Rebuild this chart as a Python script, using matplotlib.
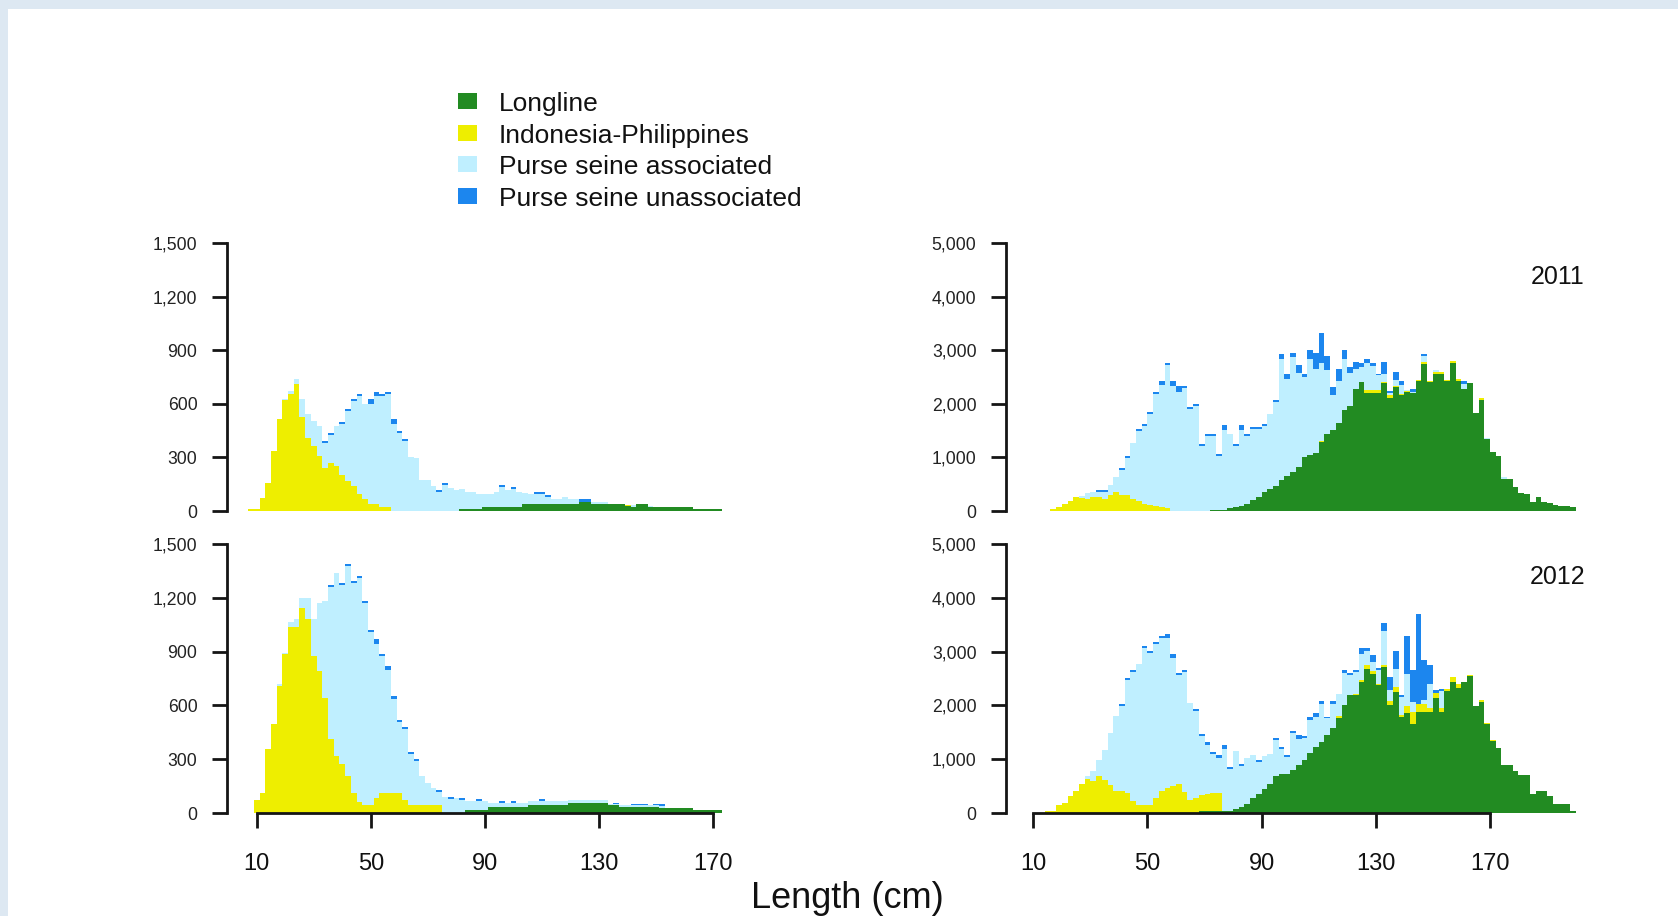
import numpy as np
import matplotlib.pyplot as plt
from matplotlib.patches import Rectangle

plt.rcParams['font.family'] = ['Liberation Sans', 'DejaVu Sans']

# 2 cm length classes (bin centres)
left_len = np.arange(8, 174, 2)     # 83 classes, left panels
right_len = np.arange(15, 201, 2)   # 93 classes, right panels

fleets = ['Longline', 'Indonesia-Philippines', 'Purse seine associated', 'Purse seine unassociated']

# ---- top left ----
tl_ll = [0, 0, 0, 0, 0, 0, 0, 0, 0, 0,
         0, 0, 0, 0, 0, 0, 0, 0, 0, 0,
         0, 0, 0, 0, 0, 0, 0, 0, 0, 0,
         0, 0, 0, 0, 0, 0, 0, 9, 9, 9,
         9, 22, 22, 22, 22, 22, 22, 22, 37, 37,
         37, 37, 37, 37, 37, 37, 37, 37, 52, 52,
         37, 37, 37, 37, 37, 37, 28, 22, 37, 37,
         22, 22, 22, 22, 22, 22, 22, 22, 9, 9,
         9, 9, 9]
tl_ip = [9, 9, 75, 159, 336, 513, 621, 657, 709, 528,
         410, 364, 308, 243, 271, 252, 202, 168, 140, 97,
         65, 37, 37, 22, 22, 0, 0, 0, 0, 0,
         0, 0, 0, 0, 0, 0, 0, 0, 0, 0,
         0, 0, 0, 0, 0, 0, 0, 0, 0, 0,
         0, 0, 0, 0, 0, 0, 0, 0, 0, 0,
         0, 0, 0, 0, 0, 0, 6, 0, 0, 0,
         0, 0, 0, 0, 0, 0, 0, 0, 0, 0,
         0, 0, 0]
tl_psa = [0, 0, 0, 0, 0, 0, 5, 15, 28, 97,
          131, 140, 168, 138, 153, 224, 287, 390, 474, 545,
          536, 560, 607, 624, 633, 489, 435, 394, 302, 295,
          174, 174, 140, 106, 147, 131, 116, 112, 99, 99,
          84, 71, 71, 86, 112, 96, 99, 86, 66, 56,
          58, 58, 41, 32, 32, 41, 28, 28, 0, 0,
          15, 15, 15, 4, 4, 4, 0, 12, 0, 0,
          6, 0, 0, 0, 0, 0, 0, 0, 0, 0,
          0, 0, 0]
tl_psu = [0, 0, 0, 0, 0, 0, 0, 0, 0, 0,
          0, 0, 0, 11, 11, 0, 11, 11, 11, 11,
          0, 28, 22, 11, 11, 28, 11, 11, 0, 0,
          0, 0, 0, 12, 12, 0, 0, 0, 0, 0,
          0, 0, 0, 0, 11, 0, 11, 0, 0, 0,
          11, 11, 12, 0, 0, 0, 0, 0, 13, 13,
          0, 0, 0, 0, 0, 0, 0, 0, 0, 0,
          0, 0, 0, 0, 0, 0, 0, 0, 0, 0,
          0, 0, 0]

# ---- bottom left ----
bl_ll = [0, 0, 0, 0, 0, 0, 0, 0, 0, 0,
         0, 0, 0, 0, 0, 0, 0, 0, 0, 0,
         0, 0, 0, 0, 0, 0, 0, 0, 0, 0,
         0, 0, 0, 0, 0, 0, 0, 0, 18, 18,
         18, 18, 33, 33, 33, 33, 33, 33, 33, 46,
         46, 46, 46, 46, 46, 46, 57, 57, 57, 57,
         57, 57, 57, 43, 43, 33, 33, 33, 33, 33,
         33, 33, 30, 30, 30, 30, 30, 30, 15, 15,
         15, 15, 15]
bl_ip = [0, 74, 113, 357, 496, 709, 884, 1036, 1036, 1143,
         1079, 875, 792, 644, 413, 320, 274, 204, 113, 61,
         43, 43, 85, 113, 113, 113, 113, 74, 43, 43,
         43, 43, 43, 43, 0, 0, 0, 0, 0, 0,
         0, 0, 0, 0, 0, 0, 0, 0, 0, 0,
         0, 0, 0, 0, 0, 0, 0, 0, 0, 0,
         0, 0, 0, 0, 0, 0, 0, 0, 0, 0,
         0, 0, 0, 0, 0, 0, 0, 0, 0, 0,
         0, 0, 0]
bl_psa = [0, 0, 0, 0, 0, 13, 10, 30, 43, 56,
          120, 204, 379, 540, 845, 1018, 997, 1172, 1171, 1251,
          1130, 969, 859, 762, 683, 522, 396, 394, 288, 247,
          161, 124, 98, 74, 92, 80, 85, 74, 49, 49,
          49, 49, 24, 24, 24, 24, 24, 24, 24, 21,
          21, 21, 21, 21, 21, 21, 13, 13, 13, 13,
          13, 13, 13, 5, 5, 10, 10, 10, 10, 10,
          10, 10, 10, 0, 0, 0, 0, 0, 0, 0,
          0, 0, 0]
bl_psu = [0, 0, 0, 0, 0, 0, 0, 0, 0, 0,
          0, 0, 0, 0, 11, 0, 11, 12, 11, 11,
          11, 11, 24, 11, 25, 18, 11, 11, 11, 12,
          0, 0, 0, 11, 0, 11, 0, 11, 0, 0,
          10, 0, 0, 0, 12, 0, 8, 0, 0, 0,
          0, 10, 0, 0, 0, 0, 0, 0, 0, 0,
          0, 0, 0, 0, 8, 0, 0, 8, 8, 8,
          0, 8, 8, 0, 0, 0, 0, 0, 0, 0,
          0, 0, 0]

# ---- top right (2011) ----
tr_ll = [0, 0, 0, 0, 0, 0, 0, 0, 0, 0,
         0, 0, 0, 0, 0, 0, 0, 0, 0, 0,
         0, 0, 0, 0, 0, 0, 0, 0, 0, 25,
         25, 25, 50, 69, 100, 131, 206, 268, 349, 412,
         474, 580, 649, 724, 817, 1005, 1036, 1080, 1279, 1441,
         1504, 1641, 1878, 1953, 2284, 2409, 2203, 2203, 2203, 2396,
         2109, 2315, 2165, 2221, 2203, 2421, 2739, 2409, 2565, 2565,
         2421, 2764, 2421, 2284, 2390, 1828, 2078, 1348, 1098, 1017,
         599, 599, 456, 331, 318, 162, 268, 175, 144, 119,
         94, 94, 81]
tr_ip = [0, 31, 81, 137, 181, 268, 237, 218, 268, 256,
         225, 306, 356, 306, 306, 225, 193, 131, 118, 100,
         81, 60, 0, 0, 0, 0, 0, 0, 0, 0,
         0, 0, 0, 0, 0, 0, 0, 0, 0, 0,
         0, 0, 12, 0, 0, 0, 0, 0, 31, 0,
         0, 0, 0, 0, 0, 0, 50, 50, 50, 12,
         50, 19, 25, 19, 0, 31, 44, 19, 37, 31,
         31, 31, 37, 0, 0, 0, 31, 0, 0, 0,
         0, 0, 0, 0, 0, 0, 0, 0, 0, 0,
         0, 0, 0]
tr_psa = [0, 0, 0, 0, 0, 0, 50, 113, 94, 100,
          131, 187, 274, 455, 680, 1042, 1299, 1449, 1692, 2084,
          2265, 2670, 2334, 2215, 2290, 1904, 1954, 1217, 1404, 1379,
          1005, 1485, 1391, 1148, 1410, 1273, 1323, 1261, 1231, 1404,
          1567, 2260, 1804, 2141, 1754, 1497, 1809, 1578, 1448, 1186,
          655, 786, 967, 624, 356, 280, 499, 455, 280, 157,
          44, 106, 156, 13, 18, 0, 106, 0, 25, 0,
          0, 0, 0, 93, 0, 0, 0, 19, 0, 0,
          31, 0, 0, 0, 0, 0, 0, 0, 0, 0,
          0, 0, 0]
tr_psu = [0, 0, 0, 0, 0, 0, 0, 0, 0, 37,
          37, 0, 0, 38, 38, 0, 37, 37, 38, 38,
          75, 37, 87, 125, 50, 37, 37, 37, 37, 37,
          37, 87, 0, 37, 87, 37, 37, 37, 37, 0,
          37, 93, 93, 81, 162, 63, 156, 294, 568, 256,
          156, 213, 156, 112, 143, 63, 75, 44, 32, 218,
          37, 156, 75, 0, 63, 0, 44, 0, 0, 0,
          0, 0, 0, 44, 0, 0, 0, 0, 0, 0,
          0, 0, 0, 0, 0, 0, 0, 0, 0, 0,
          0, 0, 0]

# ---- bottom right (2012) ----
br_ll = [0, 0, 0, 0, 0, 0, 0, 0, 0, 0,
         0, 0, 0, 0, 0, 0, 0, 0, 0, 0,
         0, 0, 0, 0, 0, 0, 0, 37, 37, 37,
         37, 37, 37, 68, 111, 172, 271, 357, 449, 541,
         683, 726, 726, 806, 900, 990, 1113, 1218, 1328, 1451,
         1587, 1759, 2000, 2202, 2189, 2435, 2681, 2589, 2374, 2712,
         2000, 2250, 1790, 1860, 1650, 1880, 1880, 1880, 2130, 1880,
         2265, 2435, 2325, 2435, 2540, 1980, 2066, 1660, 1340, 1200,
         900, 900, 775, 713, 713, 360, 400, 400, 315, 175,
         175, 175, 35]
br_ip = [37, 37, 148, 191, 314, 418, 541, 633, 590, 683,
         621, 529, 418, 418, 375, 221, 148, 148, 148, 271,
         418, 467, 498, 541, 394, 234, 283, 289, 307, 326,
         326, 0, 0, 0, 0, 0, 0, 0, 0, 0,
         0, 0, 0, 0, 0, 0, 0, 0, 0, 0,
         0, 37, 0, 0, 31, 37, 74, 43, 31, 43,
         86, 92, 31, 130, 230, 150, 150, 74, 92, 74,
         37, 86, 80, 0, 25, 0, 37, 20, 18, 0,
         0, 0, 0, 0, 0, 0, 0, 0, 0, 0,
         0, 0, 0]
br_psa = [0, 0, 0, 0, 0, 0, 0, 50, 185, 307,
          554, 953, 1390, 1562, 2103, 2393, 2626, 2927, 2835, 2878,
          2829, 2780, 2380, 2024, 2220, 1802, 1611, 1101, 917, 725,
          652, 1156, 775, 1088, 762, 849, 811, 596, 603, 559,
          682, 455, 319, 682, 478, 400, 615, 572, 702, 308,
          443, 424, 608, 356, 400, 486, 265, 172, 245, 634,
          196, 338, 339, 600, 186, 0, 67, 450, 0, 309,
          0, 0, 0, 0, 0, 0, 0, 0, 0, 0,
          0, 0, 0, 0, 0, 0, 0, 0, 0, 0,
          0, 0, 0]
br_psu = [0, 0, 0, 0, 0, 0, 0, 0, 0, 0,
          0, 0, 0, 37, 37, 37, 0, 37, 37, 37,
          37, 80, 80, 36, 37, 0, 37, 37, 61, 37,
          61, 62, 37, 0, 37, 0, 0, 37, 0, 0,
          37, 37, 37, 37, 73, 43, 62, 61, 49, 31,
          49, 0, 43, 50, 31, 105, 43, 136, 50, 141,
          246, 340, 37, 706, 584, 1666, 738, 339, 58, 37,
          0, 0, 0, 0, 0, 0, 0, 0, 0, 0,
          0, 0, 0, 0, 0, 0, 0, 0, 0, 0,
          0, 0, 0]

colors = ['#228B22', '#EEEE00', '#BFEFFF', '#1C86EE']
AXC = '#151515'

W, H = 1678, 916
fig = plt.figure(figsize=(W / 100, H / 100), dpi=100)
fig.patch.set_facecolor('#dde8f2')
# white page inside the light screenshot border
fig.add_artist(Rectangle((8 / W, 0), 1, (H - 9) / H, transform=fig.transFigure,
                         facecolor='white', edgecolor='none', zorder=0))


def px_rect(x0, x1, ytop, ybot):
    return [x0 / W, (H - ybot) / H, (x1 - x0) / W, (ybot - ytop) / H]


def panel(rect, lengths, series, xlim, ymax, ystep, xaxis):
    ax = fig.add_axes(rect)
    ax.set_facecolor('none')
    edges = np.append(lengths - 1, lengths[-1] + 1)
    cum = np.cumsum(np.array(series, dtype=float), axis=0)
    # draw from the top of the stack down so each fleet sits on the one below
    for k in range(3, -1, -1):
        ax.stairs(cum[k], edges, fill=True, color=colors[k], linewidth=0)
    ax.set_xlim(*xlim)
    ax.set_ylim(0, ymax)
    for s in ['top', 'right']:
        ax.spines[s].set_visible(False)
    ax.spines['left'].set_bounds(0, ymax)
    ax.spines['left'].set_linewidth(2.0)
    ax.spines['left'].set_color(AXC)
    yt = np.arange(0, ymax + 1, ystep)
    ax.set_yticks(yt)
    ax.set_yticklabels([f'{int(v):,}' for v in yt])
    ax.tick_params(axis='y', direction='out', length=10.8, width=2.0, color=AXC,
                   labelsize=12.7, pad=10.5, labelcolor='#222222')
    if xaxis:
        ax.spines['bottom'].set_bounds(10, 170)
        ax.spines['bottom'].set_linewidth(2.0)
        ax.spines['bottom'].set_color(AXC)
        ax.spines['bottom'].set_zorder(5)
        ax.set_xticks([10, 50, 90, 130, 170])
        ax.tick_params(axis='x', direction='out', length=10.8, width=2.0, color=AXC,
                       labelsize=17, pad=18, labelcolor='#111111')
    else:
        ax.spines['bottom'].set_visible(False)
        ax.set_xticks([])
    return ax


left_x = (227, 741.9)
right_x = (1006, 1589.8)
top_y = (243, 511)
bot_y = (544, 813)

panel(px_rect(*left_x, *top_y), left_len, [tl_ll, tl_ip, tl_psa, tl_psu],
      (-0.4, 180), 1500, 300, False)
panel(px_rect(*left_x, *bot_y), left_len, [bl_ll, bl_ip, bl_psa, bl_psu],
      (-0.4, 180), 1500, 300, True)
panel(px_rect(*right_x, *top_y), right_len, [tr_ll, tr_ip, tr_psa, tr_psu],
      (0.43, 205), 5000, 1000, False)
panel(px_rect(*right_x, *bot_y), right_len, [br_ll, br_ip, br_psa, br_psu],
      (0.43, 205), 5000, 1000, True)

fig.text(1585 / W, 1 - 277 / H, '2011', ha='right', va='center', fontsize=18, color='#111111')
fig.text(1585 / W, 1 - 577 / H, '2012', ha='right', va='center', fontsize=18, color='#111111')
fig.text(847 / W, 1 - 898 / H, 'Length (cm)', ha='center', va='center', fontsize=26, color='#111111')

# legend, drawn by hand
for k, (name, yc) in enumerate(zip(fleets, [101.0, 132.6, 164.2, 195.8])):
    fig.add_artist(Rectangle((458 / W, 1 - (yc + 8) / H), 19 / W, 16 / H,
                             transform=fig.transFigure, facecolor=colors[k], edgecolor='none'))
    fig.text(499 / W, 1 - (yc + 10) / H, name, ha='left', va='baseline', fontsize=19, color='#111111')

fig.savefig('out.png', dpi=100, facecolor=fig.get_facecolor())
